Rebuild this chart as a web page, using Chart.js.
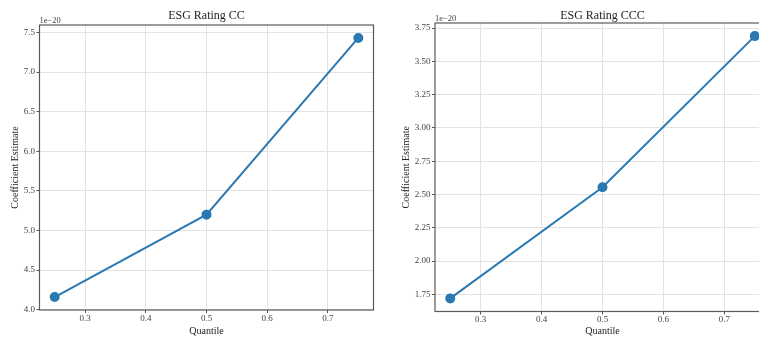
<!DOCTYPE html>
<html>
<head>
<meta charset="utf-8">
<script src="https://cdn.jsdelivr.net/npm/chart.js@4/dist/chart.umd.min.js"></script>
<style>
  html, body { margin: 0; padding: 0; background: #fff; }
  #wrap { position: relative; width: 759px; height: 338px; overflow: hidden; }
  canvas { position: absolute; top: 0; }
  #cvCC { left: 0; }
  #cvCCC { left: 380px; }
</style>
</head>
<body>
<div id="wrap">
  <canvas id="cvCC" width="380" height="338"></canvas>
  <canvas id="cvCCC" width="400" height="338"></canvas>
</div>
<script>
// данные — квантили и оценки коэффициентов (в единицах 1e-20)
const quantiles = [0.25, 0.5, 0.75];
const ccValues = [4.16e-20, 5.20e-20, 7.43e-20];
const cccValues = [1.72e-20, 2.555e-20, 3.69e-20];
const xTicks = [0.3, 0.4, 0.5, 0.6, 0.7];
const ccTicks = [4.0, 4.5, 5.0, 5.5, 6.0, 6.5, 7.0, 7.5];
const cccTicks = [1.75, 2.00, 2.25, 2.50, 2.75, 3.00, 3.25, 3.50, 3.75];
const SCALE = 1e-20;

const FONT = "'Liberation Serif', 'DejaVu Serif', serif";
const LINE = '#2b79b3';

// рамка вокруг области графика + заголовок + множитель оси
const framePlugin = {
  id: 'frame',
  afterDraw(chart, args, opts) {
    const a = chart.chartArea, ctx = chart.ctx;
    ctx.save();
    ctx.strokeStyle = '#5a5a5a';
    ctx.lineWidth = 1.2;
    ctx.strokeRect(a.left, a.top, a.right - a.left, a.bottom - a.top);
    ctx.fillStyle = '#222';
    ctx.font = '12px ' + FONT;
    ctx.textAlign = 'center';
    ctx.textBaseline = 'alphabetic';
    ctx.fillText(opts.title, (a.left + a.right) / 2, 19);
    ctx.fillStyle = '#444';
    ctx.font = '8.5px ' + FONT;
    ctx.textAlign = 'left';
    ctx.fillText('1e\u221220', a.left, a.top - 2);
    ctx.restore();
  }
};

function pad(vals) {
  const lo = Math.min.apply(null, vals), hi = Math.max.apply(null, vals);
  const m = (hi - lo) * 0.05;
  return [lo - m, hi + m];
}

function makeChart(id, title, values, yTicks, dec, box) {
  const el = document.getElementById(id);
  const yr = pad(values);
  const xr = pad(quantiles);
  return new Chart(el, {
    type: 'line',
    data: {
      datasets: [{
        data: quantiles.map(function (q, i) { return { x: q, y: values[i] }; }),
        borderColor: LINE,
        backgroundColor: LINE,
        borderWidth: 2,
        pointRadius: 4,
        pointHoverRadius: 4,
        tension: 0
      }]
    },
    options: {
      responsive: false,
      animation: false,
      layout: { padding: { left: 0, right: el.width - box.right, top: box.top, bottom: 0 } },
      plugins: {
        legend: { display: false },
        tooltip: { enabled: false },
        frame: { title: title }
      },
      scales: {
        x: {
          type: 'linear',
          min: xr[0], max: xr[1],
          bounds: 'data',
          afterBuildTicks: function (s) { s.ticks = xTicks.map(function (v) { return { value: v }; }); },
          afterFit: function (s) { s.height = el.height - box.bottom; },
          border: { display: false },
          grid: { color: '#e2e2e2', lineWidth: 1, tickColor: '#555', tickLength: 3 },
          ticks: {
            color: '#444', padding: 0, maxRotation: 0,
            font: { family: FONT, size: 9 },
            callback: function (v) { return v.toFixed(1); }
          },
          title: {
            display: true, text: 'Quantile', color: '#222',
            font: { family: FONT, size: 10 },
            padding: { top: 0, bottom: 0.5 }
          }
        },
        y: {
          type: 'linear',
          min: yr[0], max: yr[1],
          bounds: 'data',
          afterBuildTicks: function (s) { s.ticks = yTicks.map(function (v) { return { value: v * SCALE }; }); },
          afterFit: function (s) { s.width = box.left; },
          border: { display: false },
          grid: { color: '#e2e2e2', lineWidth: 1, tickColor: '#555', tickLength: 3 },
          ticks: {
            color: '#444', padding: 1.5,
            font: { family: FONT, size: 9 },
            callback: function (v) { return (v / SCALE).toFixed(dec); }
          },
          title: {
            display: true, text: 'Coefficient Estimate', color: '#222',
            font: { family: FONT, size: 10 },
            padding: { top: box.titleX - 6, bottom: 0 }
          }
        }
      }
    },
    plugins: [framePlugin]
  });
}

makeChart('cvCC', 'ESG Rating CC', ccValues, ccTicks, 1,
  { left: 39.5, right: 373.5, top: 25, bottom: 310, titleX: 15 });
makeChart('cvCCC', 'ESG Rating CCC', cccValues, cccTicks, 2,
  { left: 55, right: 390, top: 23, bottom: 311.5, titleX: 26.7 });
</script>
</body>
</html>
